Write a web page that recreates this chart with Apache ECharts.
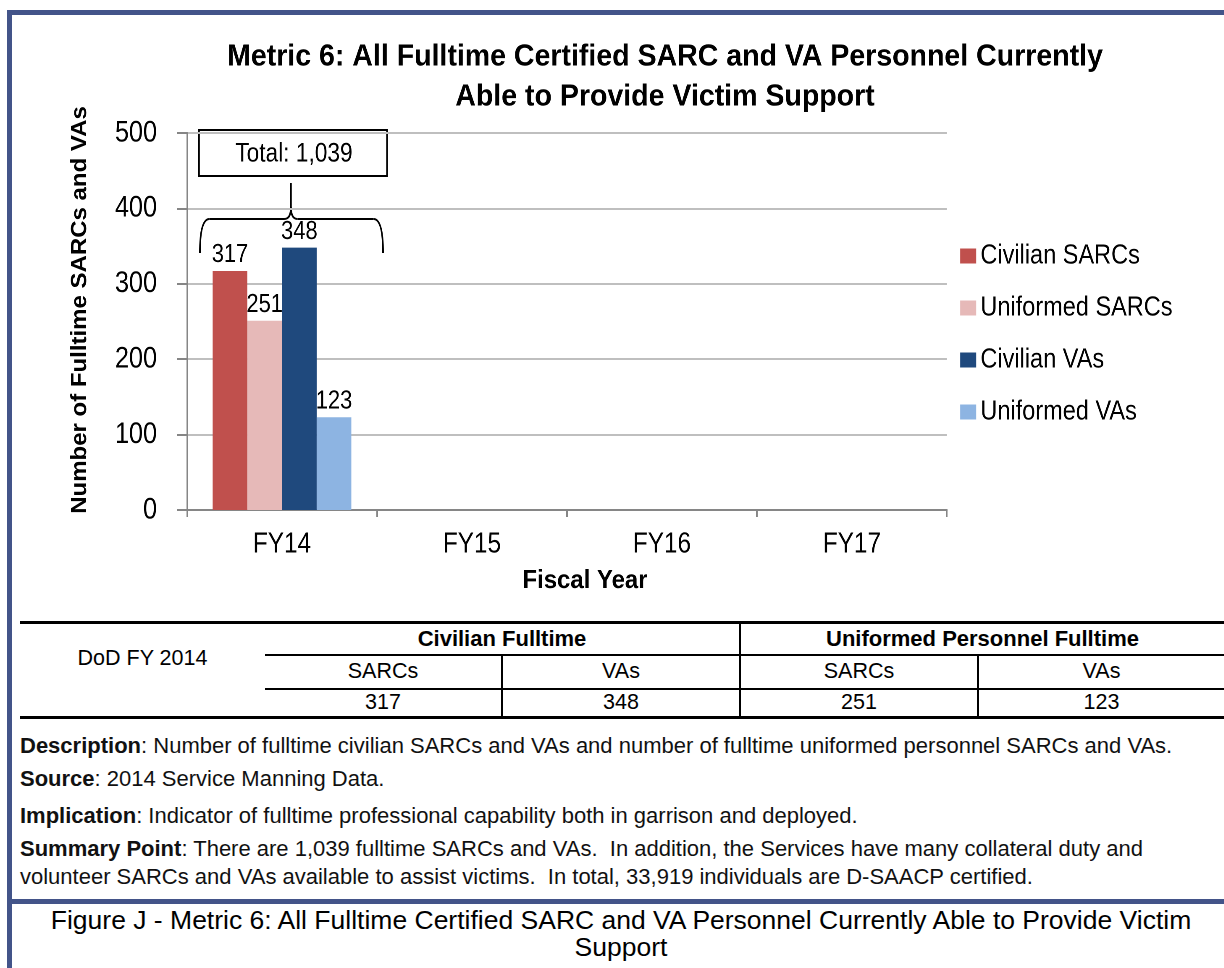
<!DOCTYPE html>
<html>
<head>
<meta charset="utf-8">
<script src="https://cdn.jsdelivr.net/npm/echarts@6/dist/echarts.min.js"></script>
<style>
  html, body { margin: 0; padding: 0; background: #fff; }
  body { width: 1224px; height: 968px; position: relative; overflow: hidden;
         font-family: 'Liberation Sans', Arial, sans-serif; color: #000; }
  .frame-top { position: absolute; left: 7px; top: 10px; width: 1217px; height: 5px; background: #435489; }
  .frame-left { position: absolute; left: 7px; top: 10px; width: 5px; height: 958px; background: #435489; }
  .frame-mid { position: absolute; left: 7px; top: 899px; width: 1217px; height: 5px; background: #435489; }
  /* the chart is drawn wider and squeezed, to get the narrow lettering of the original */
  #chart { position: absolute; left: 0; top: 0; height: 610px; transform-origin: 0 0; }
  table.data { position: absolute; left: 20px; top: 621px; width: 1204px; border-collapse: collapse;
               font-size: 21.5px; table-layout: fixed; }
  table.data td { text-align: center; padding: 0; }
  table.data .hd { font-weight: bold; font-size: 22px; }
  .notes { position: absolute; left: 20px; top: 730px; font-size: 22px; color: #111; white-space: nowrap; }
  .notes p { margin: 0; line-height: 32px; }
  .caption { position: absolute; left: 30px; width: 1182px; top: 907px; text-align: center; white-space: nowrap;
             font-family: 'Liberation Sans', Arial, sans-serif; font-size: 26.5px; line-height: 27px; }
</style>
</head>
<body>
<div class="frame-top"></div>
<div class="frame-left"></div>
<div id="chart"></div>

<table class="data">
  <colgroup><col style="width:245px"><col style="width:237px"><col style="width:238px"><col style="width:238px"><col></colgroup>
  <tr style="height:32px">
    <td rowspan="2" style="border-top:3px solid #000; padding-top:4px;">DoD FY 2014</td>
    <td colspan="2" class="hd" style="border-top:3px solid #000; border-bottom:2px solid #000;">Civilian Fulltime</td>
    <td colspan="2" class="hd" style="border-top:3px solid #000; border-bottom:2px solid #000; border-left:2px solid #000;">Uniformed Personnel Fulltime</td>
  </tr>
  <tr style="height:34px">
    <td style="border-bottom:2px solid #000;">SARCs</td>
    <td style="border-bottom:2px solid #000; border-left:2px solid #000;">VAs</td>
    <td style="border-bottom:2px solid #000; border-left:2px solid #000;">SARCs</td>
    <td style="border-bottom:2px solid #000; border-left:2px solid #000;">VAs</td>
  </tr>
  <tr style="height:29px">
    <td style="border-bottom:3px solid #000;"></td>
    <td style="border-bottom:3px solid #000;" id="v0"></td>
    <td style="border-bottom:3px solid #000; border-left:2px solid #000;" id="v1"></td>
    <td style="border-bottom:3px solid #000; border-left:2px solid #000;" id="v2"></td>
    <td style="border-bottom:3px solid #000; border-left:2px solid #000;" id="v3"></td>
  </tr>
</table>

<div class="notes">
  <p><b>Description</b>: Number of fulltime civilian SARCs and VAs and number of fulltime uniformed personnel SARCs and VAs.</p>
  <p style="margin-top:1px"><b>Source</b>: 2014 Service Manning Data.</p>
  <p style="margin-top:5px"><b>Implication</b>: Indicator of fulltime professional capability both in garrison and deployed.</p>
  <p style="margin-top:1px; line-height:28px; padding-top:2px"><b>Summary Point</b>: There are 1,039 fulltime SARCs and VAs.&nbsp; In addition, the Services have many collateral duty and<br>volunteer SARCs and VAs available to assist victims.&nbsp; In total, 33,919 individuals are D-SAACP certified.</p>
</div>

<div class="frame-mid"></div>
<div class="caption">Figure J - Metric 6: All Fulltime Certified SARC and VA Personnel Currently Able to Provide Victim<br>Support</div>

<script>
const FONT = "'Liberation Sans', Arial, sans-serif";

const categories = ['FY14', 'FY15', 'FY16', 'FY17'];
const seriesNames = ['Civilian SARCs', 'Uniformed SARCs', 'Civilian VAs', 'Uniformed VAs'];
const civilianSarcs = [317, null, null, null];
const uniformedSarcs = [251, null, null, null];
const civilianVas = [348, null, null, null];
const uniformedVas = [123, null, null, null];
const seriesColors = ['#C0504D', '#E6B9B8', '#1F497D', '#8DB4E2'];
const yTicks = { min: 0, max: 500, interval: 100 };
// table order: civilian SARCs, civilian VAs, uniformed SARCs, uniformed VAs
const tableValues = [civilianSarcs[0], civilianVas[0], uniformedSarcs[0], uniformedVas[0]];
const totalLabel = 'Total: ' + tableValues.reduce((a, b) => a + b, 0).toLocaleString('en-US');

tableValues.forEach((v, i) => { document.getElementById('v' + i).textContent = v; });

// horizontal squeeze of the chart canvas
const S = 0.84;
const px = v => v / S;      // screen x -> chart x
const BOLD_FIX = 0.92 / S;  // bold text is less condensed in the original

const el = document.getElementById('chart');
el.style.width = px(1224) + 'px';
el.style.transform = 'scaleX(' + S + ')';

const chart = echarts.init(el, null, { devicePixelRatio: 2 });
const allData = [civilianSarcs, uniformedSarcs, civilianVas, uniformedVas];

const option = {
  animation: false,
  textStyle: { fontFamily: FONT },
  grid: { left: px(187), right: px(277), top: 133, bottom: 100 },
  legend: {
    orient: 'vertical',
    left: px(956),
    top: 237,
    itemWidth: px(16),
    itemHeight: 15,
    itemGap: 24,
    icon: 'rect',
    textStyle: { fontFamily: FONT, fontSize: 28, color: '#000' },
    data: seriesNames
  },
  xAxis: {
    type: 'category',
    data: categories,
    axisLine: { lineStyle: { color: '#868686', width: 2 } },
    axisTick: { show: true, length: 7, lineStyle: { color: '#868686', width: 2 } },
    axisLabel: { fontFamily: FONT, fontSize: 29, color: '#000', margin: 20 }
  },
  yAxis: {
    type: 'value',
    min: yTicks.min,
    max: yTicks.max,
    interval: yTicks.interval,
    axisLine: { show: true, lineStyle: { color: '#868686', width: 2 } },
    axisTick: { show: true, length: px(10), lineStyle: { color: '#868686', width: 2 } },
    axisLabel: { fontFamily: FONT, fontSize: 30, color: '#000', margin: px(30) },
    splitLine: { lineStyle: { color: '#BFBFBF', width: 2 } }
  },
  series: seriesNames.map((name, i) => ({
    name,
    type: 'bar',
    data: allData[i],
    barGap: '0%',
    barCategoryGap: '27%',
    itemStyle: { color: seriesColors[i] },
    label: {
      show: true,
      position: 'top',
      distance: 3,
      fontFamily: FONT,
      fontSize: 26,
      color: '#000'
    }
  })),
  graphic: [
    {
      id: 'title',
      type: 'text',
      x: px(665),
      y: 37,
      scaleX: BOLD_FIX,
      style: {
        text: 'Metric 6: All Fulltime Certified SARC and VA Personnel Currently\nAble to Provide Victim Support',
        fontFamily: FONT,
        fontSize: 31,
        fontWeight: 'bold',
        lineHeight: 40,
        textAlign: 'center',
        textVerticalAlign: 'top',
        fill: '#000'
      }
    },
    {
      id: 'yname',
      type: 'text',
      x: px(80),
      y: 310,
      rotation: Math.PI / 2,
      scaleY: BOLD_FIX,
      style: {
        text: 'Number of Fulltime SARCs and VAs',
        fontFamily: FONT, fontSize: 24, fontWeight: 'bold', fill: '#000',
        textAlign: 'center', textVerticalAlign: 'middle'
      }
    },
    {
      id: 'xname',
      type: 'text',
      x: px(585),
      y: 581,
      scaleX: BOLD_FIX,
      style: {
        text: 'Fiscal Year',
        fontFamily: FONT, fontSize: 26, fontWeight: 'bold', fill: '#000',
        textAlign: 'center', textVerticalAlign: 'middle'
      }
    }
  ]
};
chart.setOption(option);

// annotation box and brace around the FY14 bars, placed from the axis scale
const cx = chart.convertToPixel({ xAxisIndex: 0 }, categories[0]);
const band = chart.convertToPixel({ xAxisIndex: 0 }, categories[1]) - cx;
const yTop = chart.convertToPixel({ yAxisIndex: 0 }, yTicks.max);
const bl = cx - band * 0.432, br = cx + band * 0.532, bm = cx + band * 0.047;
const r = band * 0.05, rm = band * 0.035;
const braceTop = yTop + 86, braceEnd = yTop + 120, spike = yTop + 50;
const boxL = cx - band * 0.437, boxR = cx + band * 0.553;
const braceStyle = { fill: null, stroke: '#000', lineWidth: 2 };

chart.setOption({
  graphic: [
    {
      id: 'totalBox',
      type: 'rect',
      shape: { x: boxL, y: yTop - 3, width: boxR - boxL, height: 46 },
      style: { fill: '#fff', stroke: '#000', lineWidth: 2 }
    },
    {
      id: 'totalText',
      type: 'text',
      x: cx + band * 0.063,
      y: yTop + 21,
      style: {
        text: totalLabel, fontFamily: FONT, fontSize: 27, fill: '#000',
        textAlign: 'center', textVerticalAlign: 'middle'
      }
    },
    { id: 'b1', type: 'bezierCurve', shape: { x1: bl, y1: braceEnd, cpx1: bl, cpy1: braceTop, x2: bl + r, y2: braceTop }, style: braceStyle },
    { id: 'b2', type: 'line', shape: { x1: bl + r, y1: braceTop, x2: bm - rm, y2: braceTop }, style: braceStyle },
    { id: 'b3', type: 'bezierCurve', shape: { x1: bm - rm, y1: braceTop, cpx1: bm, cpy1: braceTop, x2: bm, y2: braceTop - 12 }, style: braceStyle },
    { id: 'b4', type: 'line', shape: { x1: bm, y1: braceTop - 12, x2: bm, y2: spike }, style: braceStyle },
    { id: 'b5', type: 'bezierCurve', shape: { x1: bm + rm, y1: braceTop, cpx1: bm, cpy1: braceTop, x2: bm, y2: braceTop - 12 }, style: braceStyle },
    { id: 'b6', type: 'line', shape: { x1: bm + rm, y1: braceTop, x2: br - r, y2: braceTop }, style: braceStyle },
    { id: 'b7', type: 'bezierCurve', shape: { x1: br, y1: braceEnd, cpx1: br, cpy1: braceTop, x2: br - r, y2: braceTop }, style: braceStyle }
  ]
});
</script>
</body>
</html>
